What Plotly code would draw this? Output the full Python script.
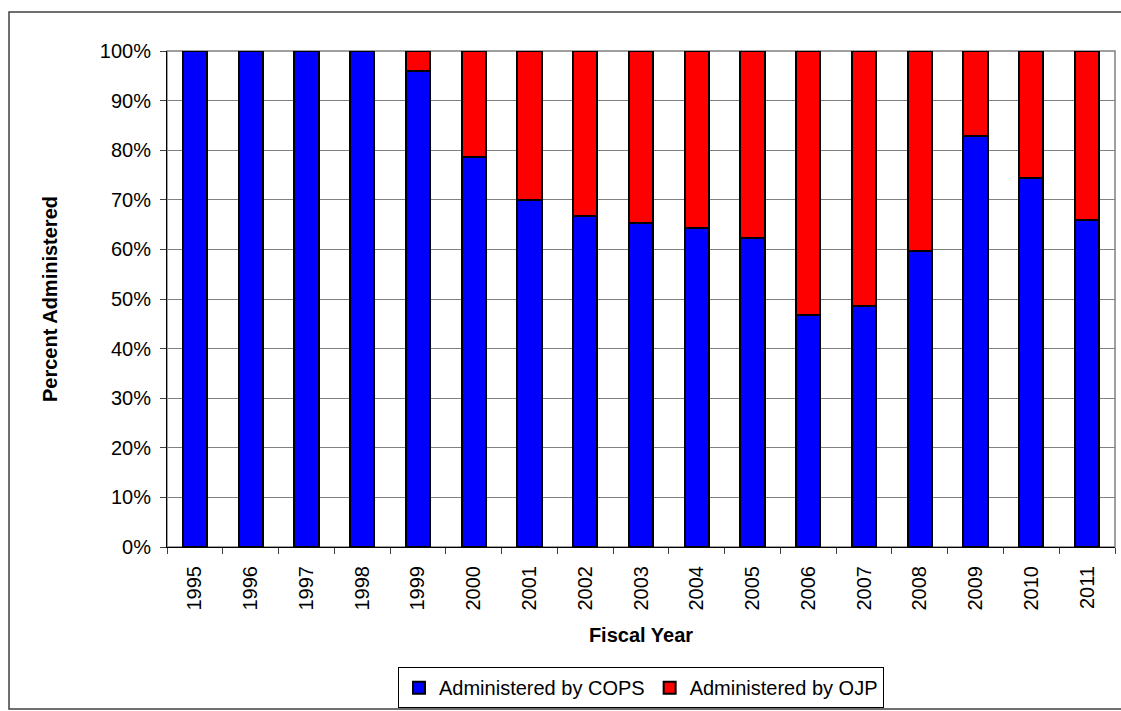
import plotly.graph_objects as go

years = ["1995", "1996", "1997", "1998", "1999", "2000", "2001", "2002", "2003",
         "2004", "2005", "2006", "2007", "2008", "2009", "2010", "2011"]
cops = [100, 100, 100, 100, 96.0, 78.7, 69.9, 66.8, 65.3, 64.4, 62.2, 46.7, 48.5,
        59.6, 82.8, 74.4, 66.0]
ojp = [0, 0, 0, 0, 4.0, 21.3, 30.1, 33.2, 34.7, 35.6, 37.8, 53.3, 51.5,
       40.4, 17.2, 25.6, 34.0]

W, H = 1121, 711
ML, MR, MT, MB = 167, 6, 51, 164
pw, ph = W - ML - MR, H - MT - MB

FONT = "Liberation Sans, Arial, sans-serif"

fig = go.Figure()
fig.add_trace(go.Bar(x=years, y=[v / 100 for v in cops], name="Administered by COPS",
                     marker=dict(color="#0000FF", line=dict(color="black", width=2))))
fig.add_trace(go.Bar(x=years, y=[v / 100 for v in ojp], name="Administered by OJP",
                     marker=dict(color="#FF0000", line=dict(color="black", width=2))))

fig.update_layout(
    width=W, height=H, barmode="stack", bargap=0.565,
    margin=dict(l=ML, r=MR, t=MT, b=MB, pad=0, autoexpand=False),
    paper_bgcolor="white", plot_bgcolor="white",
    font=dict(family=FONT, size=20, color="black"),
    showlegend=True,
    legend=dict(orientation="h", x=0.5, xanchor="center", xref="paper",
                yref="container", y=0.004, yanchor="bottom",
                bordercolor="black", borderwidth=1, font=dict(size=20), traceorder="normal",
                itemwidth=30, tracegroupgap=0),
    xaxis=dict(type="category", tickangle=-90, showgrid=False, ticks="outside", ticklen=6,
               tickson="boundaries", tickcolor="#404040", showline=True, linecolor="black",
               linewidth=1, tickfont=dict(size=20), ticklabelstandoff=10,
               title=dict(text="<b>Fiscal Year</b>", font=dict(size=20), standoff=18)),
    yaxis=dict(range=[0, 1], dtick=0.1, tickformat=".0%", showgrid=True, gridcolor="#808080",
               gridwidth=1, ticks="outside", ticklen=6, tickcolor="#404040", showline=True,
               linecolor="black", linewidth=1, zeroline=False, tickfont=dict(size=20),
               ticklabelstandoff=5,
               title=dict(text="<b>Percent Administered</b>", font=dict(size=20), standoff=36)),
    shapes=[
        dict(type="rect", xref="paper", yref="paper", x0=0, x1=1, y0=0, y1=1,
             line=dict(color="#808080", width=1.5), layer="below"),
        dict(type="rect", xref="paper", yref="paper",
             x0=(9 - ML) / pw, x1=(W + 5 - ML) / pw,
             y0=(H - MB - 709) / ph, y1=(H - MB - 12) / ph,
             line=dict(color="#404040", width=1.5), layer="below"),
    ],
)

fig.write_html("out.html", config={"displayModeBar": False},
               post_script="document.body.style.margin='0';document.body.style.overflow='hidden';")
